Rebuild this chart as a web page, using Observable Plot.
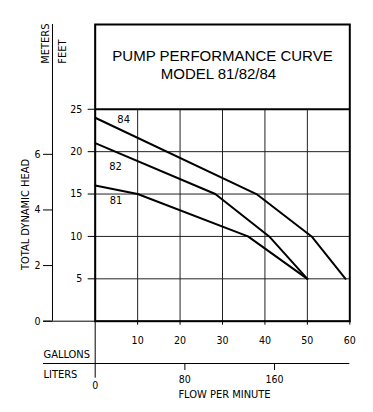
<!DOCTYPE html>
<html><head><meta charset="utf-8">
<script src="https://cdn.jsdelivr.net/npm/d3@7"></script>
<script src="https://cdn.jsdelivr.net/npm/@observablehq/plot@0.6"></script>
<style>body{margin:0;background:#fff}</style>
</head><body><div id="chart"></div>
<script>
// ---- data ----
const gallonTicks = [10, 20, 30, 40, 50, 60];
const literTicks = [80, 160];
const feetTicks = [5, 10, 15, 20, 25];
const meterTicks = [0, 2, 4, 6];
const gridFeet = [5, 10, 15, 20];
const gridGallons = [10, 20, 30, 40, 50];
const model84 = [[0, 24], [38, 15], [51, 10], [59, 5]];
const model82 = [[0, 21], [28.3, 15], [41, 10], [50, 5]];
const model81 = [[0, 16], [10, 15], [36, 10], [50, 5]];
const seriesNames = ["84", "82", "81"];
const labelX = [6.7, 4.8, 4.9];
const labelY = [23.8, 18.3, 14.2];
const titleLines = ["PUMP PERFORMANCE CURVE", "MODEL 81/82/84"];
const FT_PER_M = 3.28084, L_PER_GAL = 3.78541;

const curves = [model84, model82, model81].flatMap((pts, i) =>
  pts.map(([g, h]) => ({model: seriesNames[i], gal: g, ft: h})));
const labels = seriesNames.map((s, i) => ({model: s, gal: labelX[i], ft: labelY[i]}));

const narrow = "'DejaVu Sans Condensed', 'Liberation Sans Narrow', 'Arial Narrow', sans-serif";
const wide = "'Liberation Sans', Arial, sans-serif";
const fsNum = 10.5, fsWord = 11;

const chart = Plot.plot({
  width: 373, height: 412,
  marginLeft: 94.7, marginRight: 23.7, marginTop: 24, marginBottom: 91.3,
  style: {fontFamily: narrow, fontSize: "11px", background: "#fff", color: "#000"},
  x: {domain: [0, 60], axis: null},
  y: {domain: [0, 35], axis: null},
  marks: [
    Plot.ruleY(gridFeet, {y: d => d, x1: 0, x2: 60, stroke: "#222", strokeWidth: 1}),
    Plot.ruleX(gridGallons, {x: d => d, y1: 0, y2: 25, stroke: "#222", strokeWidth: 1}),
    // left/bottom extension lines
    Plot.ruleY([0], {x1: 0, x2: 60, insetLeft: -51.7, stroke: "#000", strokeWidth: 1}),
    Plot.ruleY([0], {x1: 0, x2: 60, insetLeft: -51.7, dy: 42.3, stroke: "#000", strokeWidth: 1}),
    Plot.ruleX([0], {insetBottom: -57, stroke: "#000", strokeWidth: 1}),
    Plot.ruleX([0], {dx: -42.7, stroke: "#000", strokeWidth: 1}),
    Plot.frame({stroke: "#000", strokeWidth: 2}),
    Plot.ruleY([25], {stroke: "#000", strokeWidth: 2}),
    // curves
    Plot.line(curves, {x: "gal", y: "ft", z: "model", stroke: "#000", strokeWidth: 2}),
    Plot.text(labels, {x: "gal", y: "ft", text: "model", fontSize: fsNum + 0.5}),
    // title
    Plot.text([titleLines[0]], {frameAnchor: "top", dy: 31.5, fontFamily: wide, fontSize: 15, lineAnchor: "middle"}),
    Plot.text([titleLines[1]], {frameAnchor: "top", dy: 49.8, dx: -4, fontFamily: wide, fontSize: 15, lineAnchor: "middle"}),
    // axes
    Plot.axisY(feetTicks, {anchor: "left", label: null, tickSize: 7, tickPadding: 6, fontSize: fsNum}),
    Plot.axisY(meterTicks.map(m => m * FT_PER_M), {anchor: "left", label: null, tickSize: 9, tickPadding: 3, dx: -42.7,
      tickFormat: d => String(Math.round(d / FT_PER_M)), fontSize: fsNum}),
    Plot.axisX(gallonTicks, {anchor: "bottom", label: null, tickSize: 4, tickPadding: 11, fontSize: fsNum}),
    Plot.axisX(literTicks.map(l => l / L_PER_GAL), {anchor: "bottom", label: null, tickSize: 7, tickPadding: 5, dy: 42.3,
      tickFormat: d => String(Math.round(d * L_PER_GAL)), fontSize: fsNum}),
    Plot.axisX([0], {anchor: "bottom", label: null, tickSize: 0, tickPadding: 18, dy: 42.3, fontSize: fsNum}),
    // axis titles
    Plot.text(["GALLONS"], {frameAnchor: "bottom-left", textAnchor: "start", dx: -51.7, dy: 33.5, fontSize: fsWord, lineAnchor: "middle"}),
    Plot.text(["LITERS"], {frameAnchor: "bottom-left", textAnchor: "start", dx: -51.7, dy: 52.8, fontSize: fsWord, lineAnchor: "middle"}),
    Plot.text(["FLOW PER MINUTE"], {frameAnchor: "bottom", dx: 2, dy: 73.3, fontSize: fsWord, lineAnchor: "middle"}),
    Plot.text(["TOTAL DYNAMIC HEAD"], {frameAnchor: "left", textAnchor: "middle", rotate: -90, dx: -69.7, dy: 41.6, fontSize: fsWord, lineAnchor: "middle"}),
    Plot.text(["METERS"], {frameAnchor: "top-left", rotate: -90, textAnchor: "start", dx: -49.7, dy: 39.3, fontSize: fsWord, lineAnchor: "middle"}),
    Plot.text(["FEET"], {frameAnchor: "top-left", rotate: -90, textAnchor: "start", dx: -33, dy: 39.3, fontSize: fsWord, lineAnchor: "middle"})
  ]
});
document.getElementById("chart").append(chart);
</script>
</body></html>
